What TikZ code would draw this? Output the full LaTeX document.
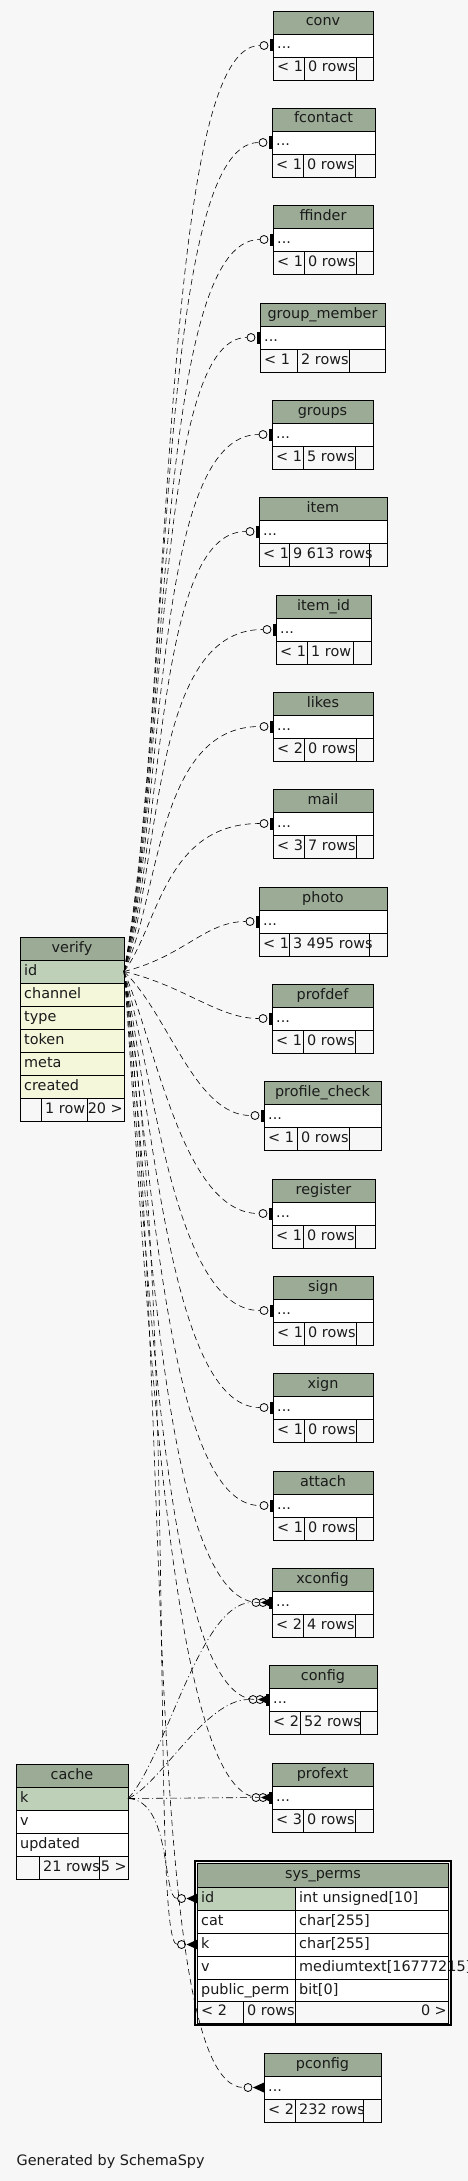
\documentclass[tikz,border=0pt]{standalone}
\usepackage{fontspec}
\setmainfont{DejaVu Sans}
\usetikzlibrary{calc}
\definecolor{pagebg}{HTML}{F7F7F7}
\definecolor{headgreen}{HTML}{9BAB96}
\definecolor{keygreen}{HTML}{BED1B8}
\definecolor{colyellow}{HTML}{F4F7DA}
\definecolor{inkgray}{HTML}{1A1A1A}
\tikzset{cell/.style={
    draw=black,
    line width=0.8pt}}
\tikzset{hdrcell/.style={cell, fill=headgreen}}
\tikzset{dotcell/.style={cell, fill=white}}
\tikzset{footcell/.style={cell, fill=pagebg}}
\tikzset{keycell/.style={cell, fill=keygreen}}
\tikzset{colcell/.style={cell, fill=colyellow}}
\tikzset{lbl/.style={
    font=\fontsize{14.4}{16}\selectfont, text=inkgray,
    inner sep=0pt, text height=10pt, text depth=3pt}}
\tikzset{odot/.style={
    draw=black, circle, fill=pagebg,
    line width=0.8pt, inner sep=0pt, minimum size=8pt}}
\tikzset{rel/.style={
    draw=black, line width=0.6pt,
    dash pattern=on 6pt off 4pt}}
\tikzset{relcache/.style={
    draw=black, line width=0.6pt,
    dash pattern=on 7pt off 3pt on 1pt off 3pt}}

\newcommand{\dottbl}[9]{%
  \path[hdrcell] (#3,#4) rectangle (#5,#4+23);
  \path[dotcell] (#3,#4+23) rectangle (#5,#4+46);
  \path[footcell] (#3,#4+46) rectangle (#6,#4+69);
  \path[footcell] (#6,#4+46) rectangle (#7,#4+69);
  \path[footcell] (#7,#4+46) rectangle (#5,#4+69);
  \node[lbl] (#1) at ({(#3+#5)/2},#4+11.5) {#2};
  \node[lbl,anchor=west] at (#3+4,#4+34.5) {...};
  \node[lbl,anchor=west] at (#3+4,#4+57.5) {#8};
  \node[lbl,anchor=west] at (#6+4,#4+57.5) {#9};
  \coordinate (#1-in) at (#3,#4+34.5);
}
\newcommand{\teemark}[1]{%
  \fill ($(#1-in)+(-3.5,-6)$) rectangle ($(#1-in)+(0,6)$);
  \node[odot] (#1-o) at ($(#1-in)+(-9,0)$) {};
}
\newcommand{\crowmark}[1]{%
  \fill ($(#1-in)+(-11,0)$) -- ($(#1-in)+(0,-5)$) -- ($(#1-in)+(0,5)$) -- cycle;
  \node[odot] (#1-c) at ($(#1-in)+(-16,0)$) {};
}

\begin{document}
\begin{tikzpicture}[x=1pt,y=-1pt]
\useasboundingbox (0,0) rectangle (468,2181);
\fill[pagebg] (0,0) rectangle (468,2181);

\dottbl{conv}{conv}{273}{11}{373}{304}{356}{< 1}{0 rows}
\dottbl{fcontact}{fcontact}{272}{108}{375}{303}{355}{< 1}{0 rows}
\dottbl{ffinder}{ffinder}{273}{205}{373}{304}{356}{< 1}{0 rows}
\dottbl{groupmember}{group\_member}{260}{303}{385}{297}{349}{< 1}{2 rows}
\dottbl{groups}{groups}{272}{400}{373}{303}{355}{< 1}{5 rows}
\dottbl{item}{item}{259}{497}{387}{289}{369}{< 1}{9 613 rows}
\dottbl{itemid}{item\_id}{276}{595}{371}{307}{353}{< 1}{1 row}
\dottbl{likes}{likes}{273}{692}{373}{304}{356}{< 2}{0 rows}
\dottbl{mail}{mail}{273}{789}{373}{304}{356}{< 3}{7 rows}
\dottbl{photo}{photo}{259}{887}{387}{289}{369}{< 1}{3 495 rows}
\dottbl{profdef}{profdef}{272}{984}{373}{303}{355}{< 1}{0 rows}
\dottbl{profilecheck}{profile\_check}{264}{1081}{381}{297}{349}{< 1}{0 rows}
\dottbl{register}{register}{272}{1179}{375}{303}{355}{< 1}{0 rows}
\dottbl{sign}{sign}{273}{1276}{373}{304}{356}{< 1}{0 rows}
\dottbl{xign}{xign}{273}{1373}{373}{304}{356}{< 1}{0 rows}
\dottbl{attach}{attach}{273}{1471}{373}{304}{356}{< 1}{0 rows}
\dottbl{xconfig}{xconfig}{272}{1568}{373}{303}{355}{< 2}{4 rows}
\dottbl{config}{config}{269}{1665}{377}{300}{360}{< 2}{52 rows}
\dottbl{profext}{profext}{272}{1763}{373}{303}{355}{< 3}{0 rows}
\dottbl{pconfig}{pconfig}{264}{2053}{381}{295}{363}{< 2}{232 rows}

% verify
\path[hdrcell] (20,937) rectangle (124,960);
\node[lbl] (verify) at (72,948.5) {verify};
\path[keycell] (20,960) rectangle (124,983);
\node[lbl,anchor=west] at (24,971.5) {id};
\foreach \c [count=\i] in {channel,type,token,meta,created} {
  \path[colcell] (20,960+23*\i) rectangle (124,983+23*\i);
  \node[lbl,anchor=west] at (24,971.5+23*\i) {\c};
}
\path[footcell] (20,1098) rectangle (41,1121);
\path[footcell] (41,1098) rectangle (87,1121);
\path[footcell] (87,1098) rectangle (124,1121);
\node[lbl,anchor=west] at (45,1109.5) {1 row};
\node[lbl,anchor=east] at (123,1109.5) {20 >};
\coordinate (verify-id) at (124,971.5);

% cache
\path[hdrcell] (16,1764) rectangle (128,1787);
\node[lbl] (cache) at (72,1775.5) {cache};
\path[keycell] (16,1787) rectangle (128,1810);
\node[lbl,anchor=west] at (20,1798.5) {k};
\foreach \c [count=\i] in {v,updated} {
  \path[dotcell] (16,1787+23*\i) rectangle (128,1810+23*\i);
  \node[lbl,anchor=west] at (20,1798.5+23*\i) {\c};
}
\path[footcell] (16,1856) rectangle (39,1879);
\path[footcell] (39,1856) rectangle (99,1879);
\path[footcell] (99,1856) rectangle (128,1879);
\node[lbl,anchor=west] at (43,1867.5) {21 rows};
\node[lbl,anchor=east] at (127,1867.5) {5 >};
\coordinate (cache-k) at (128,1798.5);

% sys_perms
\path[hdrcell] (197.5,1863) rectangle (448.5,1887);
\node[lbl] (sysperms) at (323,1875) {sys\_perms};
\path[keycell] (197.5,1887) rectangle (295,1910);
\path[dotcell] (295,1887) rectangle (448.5,1910);
\node[lbl,anchor=west] at (201,1898.5) {id};
\node[lbl,anchor=west] at (299,1898.5) {int unsigned[10]};
\foreach \n/\ty/\yy in {cat/char[255]/1910,k/char[255]/1933,v/mediumtext[16777215]/1956,public\_perm/bit[0]/1979} {
  \path[dotcell] (197.5,\yy) rectangle (295,\yy+23);
  \path[dotcell] (295,\yy) rectangle (448.5,\yy+23);
  \node[lbl,anchor=west] at (201,\yy+11.5) {\n};
  \node[lbl,anchor=west] at (299,\yy+11.5) {\ty};
}
\path[footcell] (197.5,2001) rectangle (243,2023);
\path[footcell] (243,2001) rectangle (295,2023);
\path[footcell] (295,2001) rectangle (448.5,2023);
\node[lbl,anchor=west] at (201,2012) {< 2};
\node[lbl,anchor=west] at (247,2012) {0 rows};
\node[lbl,anchor=east] at (447,2012) {0 >};
\draw[line width=2.2pt] (195.2,1860.8) rectangle (450.8,2025.2);
\coordinate (spid-in) at (197.5,1898.5);
\coordinate (spk-in) at (197.5,1944.5);

\foreach \t in {conv,fcontact,ffinder,groupmember,groups,item,itemid,likes,mail,photo,profdef,profilecheck,register,sign,xign,attach,xconfig,config,profext}
  \teemark{\t};
\foreach \t in {xconfig,config,profext,spid,spk,pconfig}
  \crowmark{\t};

\foreach \t/\a/\b in {conv/50/105,fcontact/48/108,ffinder/46/110,groupmember/44/98,groups/42/112,item/40/96,itemid/38/118,likes/36/108,mail/34/100,photo/60/45,profdef/60/45,profilecheck/45/60,register/32/80,sign/30/90,xign/28/95,attach/26/100,xconfig/24/104,config/22/102,profext/20/100}
  \draw[rel] (verify-id) .. controls ($(verify-id)!0.3!(verify-id |- \t-o) + (\a,0)$) and ($(\t-o) + (-\b,0)$) .. (\t-o);
\draw[rel] (verify-id) .. controls (178,1300) and (150,1944.5) .. (spk-c);
\draw[rel] (verify-id) .. controls (172,1350) and (140,2087.5) .. (pconfig-c);

\draw[relcache] (cache-k) .. controls (165,1760) and (200,1602.5) .. (xconfig-c);
\draw[relcache] (cache-k) .. controls (160,1785) and (205,1699.5) .. (config-c);
\draw[relcache] (cache-k) -- (profext-c);
\draw[relcache] (cache-k) .. controls (172,1800) and (162,1898.5) .. (spid-c);

\node[lbl,anchor=base west] (credit) at (16.5,2165) {Generated by SchemaSpy};
\end{tikzpicture}
\end{document}
